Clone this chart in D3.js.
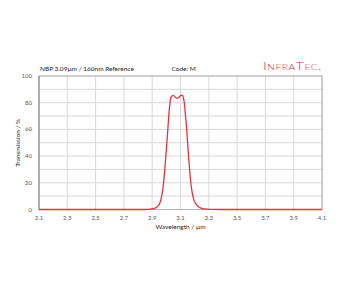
<!DOCTYPE html>
<html>
<head>
<meta charset="utf-8">
<script src="https://cdn.jsdelivr.net/npm/d3@7"></script>
<style>
  html, body { margin: 0; padding: 0; background: #fff; }
  svg { display: block; font-family: Lato, "Open Sans", sans-serif; }
  .grid line { stroke: #d9d9d9; stroke-width: 1; }
  .tickLbl { fill: #595959; font-size: 6px; }
</style>
</head>
<body>
<div id="chart"></div>
<script>
// wavelength (µm) and transmission (%)
var wavelength = [2.10, 2.85, 2.89, 2.92, 2.94, 2.955, 2.965, 2.975, 2.985, 2.995, 3.005, 3.013, 3.02, 3.027,
  3.035, 3.048, 3.06, 3.075, 3.09, 3.103, 3.113, 3.122, 3.13, 3.137, 3.144, 3.152, 3.162, 3.172,
  3.182, 3.195, 3.21, 3.225, 3.245, 3.27, 3.31, 3.40, 4.10];
var transmission = [0, 0, 0.3, 1, 2.5, 5, 9, 15, 25, 38, 52, 64, 74, 81,
  84.5, 85.5, 84.5, 83.3, 84, 85.5, 85.5, 83, 77, 68, 60, 47, 33, 21,
  13, 7, 4, 2.2, 1, 0.4, 0.1, 0, 0];
var xTicks = [2.1, 2.3, 2.5, 2.7, 2.9, 3.1, 3.3, 3.5, 3.7, 3.9, 4.1];
var yTicks = [0, 20, 40, 60, 80, 100];
var yGrid = [0, 10, 20, 30, 40, 50, 60, 70, 80, 90, 100];

var W = 344, H = 287;
var margin = {top: 76, right: 22, bottom: 77.5, left: 39};
var width = W - margin.left - margin.right,
    height = H - margin.top - margin.bottom;

var svg = d3.select("#chart").append("svg")
  .attr("width", W).attr("height", H);

var g = svg.append("g")
  .attr("transform", "translate(" + margin.left + "," + margin.top + ")");

var x = d3.scaleLinear().domain([2.1, 4.1]).range([0, width]);
var y = d3.scaleLinear().domain([0, 100]).range([height, 0]);

// gridlines
g.append("g").attr("class", "grid")
  .selectAll("line").data(yGrid).enter().append("line")
  .attr("x1", 0).attr("x2", width)
  .attr("y1", function(d){ return y(d); }).attr("y2", function(d){ return y(d); });
g.append("g").attr("class", "grid")
  .selectAll("line").data(xTicks).enter().append("line")
  .attr("x1", function(d){ return x(d); }).attr("x2", function(d){ return x(d); })
  .attr("y1", 0).attr("y2", height);

// frame
g.append("rect")
  .attr("x", 0).attr("y", 0).attr("width", width).attr("height", height)
  .attr("fill", "none").attr("stroke", "#b0b0b0").attr("stroke-width", 1);
g.append("line").attr("x1", 0).attr("x2", 0).attr("y1", 0).attr("y2", height)
  .attr("stroke", "#8c8c8c");

// tick labels
g.append("g").selectAll("text").data(yTicks).enter().append("text")
  .attr("class", "tickLbl")
  .attr("x", -7).attr("y", function(d){ return y(d) + 2; })
  .attr("text-anchor", "end")
  .text(function(d){ return d; });
g.append("g").selectAll("text").data(xTicks).enter().append("text")
  .attr("class", "tickLbl")
  .attr("x", function(d){ return x(d); }).attr("y", height + 10.5)
  .attr("text-anchor", "middle")
  .text(function(d){ return d.toFixed(1); });

// curve
var pts = wavelength.map(function(w, i){ return [w, transmission[i]]; });
var line = d3.line()
  .x(function(d){ return x(d[0]); })
  .y(function(d){ return y(d[1]); })
  .curve(d3.curveMonotoneX);
g.append("path").datum(pts)
  .attr("d", line)
  .attr("fill", "none")
  .attr("stroke", "#e8323a")
  .attr("stroke-width", 1.3);

// axis titles
svg.append("text")
  .attr("x", margin.left + width / 2).attr("y", 228.5)
  .attr("text-anchor", "middle")
  .attr("font-size", 6.5).attr("fill", "#262626")
  .text("Wavelength / µm");
svg.append("text")
  .attr("transform", "translate(20," + (margin.top + height / 2) + ") rotate(-90)")
  .attr("text-anchor", "middle")
  .attr("font-size", 6.5).attr("fill", "#262626")
  .text("Transmission / %");

// header
svg.append("text")
  .attr("x", 40).attr("y", 70.5)
  .attr("font-size", 6.5).attr("fill", "#262626")
  .text("NBP 3.09µm / 160nm Reference");
svg.append("text")
  .attr("x", 171.5).attr("y", 70.5)
  .attr("font-size", 6.5).attr("fill", "#262626")
  .text("Code: M");

// logo
svg.append("text")
  .attr("x", 263).attr("y", 69.5)
  .attr("font-size", 11.5).attr("fill", "#d2323c")
  .attr("font-weight", 300)
  .style("font-variant", "small-caps")
  .style("letter-spacing", "0.5px")
  .attr("textLength", 59).attr("lengthAdjust", "spacingAndGlyphs")
  .text("InfraTec.");
</script>
</body>
</html>
